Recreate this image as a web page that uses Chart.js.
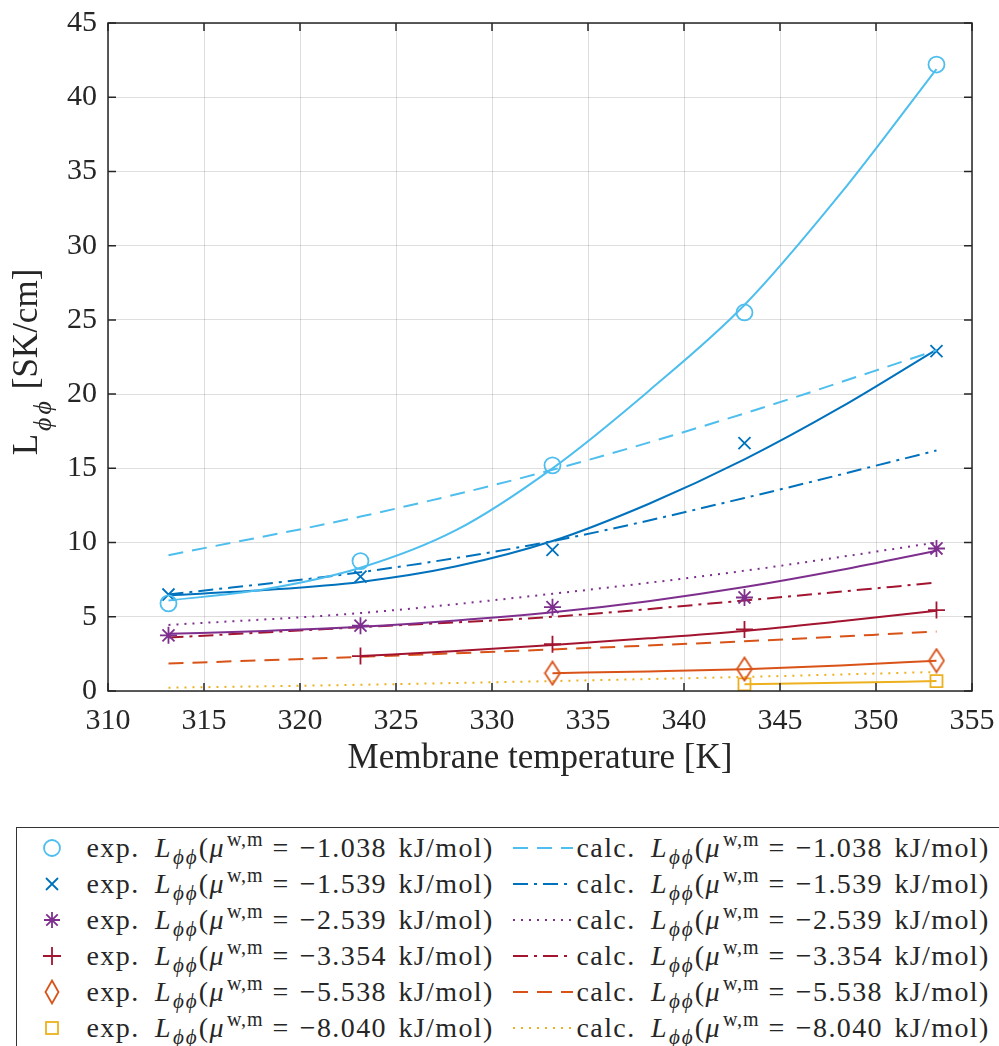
<!DOCTYPE html>
<html lang="en">
<head>
<meta charset="UTF-8">
<title>L_phiphi vs membrane temperature</title>
<script src="https://cdn.jsdelivr.net/npm/chart.js"></script>
<style>
    body { margin: 0; background: #fff; overflow: hidden; width: 999px; height: 1046px; position: relative;
           font-family: "Liberation Serif", serif; color: #262626; }
    #wrap { position: absolute; left: 0; top: 0; width: 999px; height: 800px; }
    #legend { position: absolute; left: 16px; top: 827px; width: 1000px; height: 240px;
              border: 1.5px solid #333; box-sizing: border-box; }
    .row { position: absolute; left: 0; width: 100%; height: 36px; }
    .row > * { position: absolute; top: 50%; transform: translateY(-50%); }
    .txt { font-size: 28px; white-space: nowrap; line-height: 36px; letter-spacing: 1.4px; }
    .txt sub, .txt sup { line-height: 0; position: relative; vertical-align: baseline; }
    .txt sub { font-size: 21px; top: 7px; font-style: italic; letter-spacing: 2px; margin-left: 1px; }
    .txt sup { font-size: 20px; top: -11px; letter-spacing: 1px; margin-left: 2px; }
    .txt .op { margin: 0 10px 0 9px; }
    .txt .un { margin-left: 3px; }
</style>
</head>
<body>
<div id="wrap"><canvas id="graph" width="999" height="800"></canvas></div>
<div id="legend"></div>
<script>
    // temperatures [K]
    const temps = [313.15, 323.15, 333.15, 343.15, 353.15];
    const fitTemps = [313.15, 318.15, 323.15, 328.15, 333.15, 338.15, 343.15, 348.15, 353.15];

    const muLabels = ['1.038', '1.539', '2.539', '3.354', '5.538', '8.040'];
    const colors = ['#4DBEEE', '#0072BD', '#7E2F8E', '#A2142F', '#D95319', '#EDB120'];

    // experimental points
    const expA = [5.9, 8.75, 15.2, 25.5, 42.2];
    const expB = [6.5, 7.7, 9.5, 16.7, 22.9];
    const expC = [3.75, 4.4, 5.65, 6.3, 9.6];
    const expD = [null, 2.35, 3.15, 4.15, 5.45];
    const expE = [null, null, 1.2, 1.48, 2.05];
    const expF = [null, null, null, 0.45, 0.67];

    // fitted curves through the experimental points (read at fitTemps)
    const fitA = [6.1, 6.85, 8.3, 10.85, 15.0, 20.2, 26.0, 33.5, 41.9];
    const fitB = [6.45, 6.8, 7.35, 8.4, 10.1, 12.6, 15.6, 19.1, 23.0];
    const fitC = [3.85, 4.05, 4.33, 4.75, 5.3, 6.05, 7.0, 8.15, 9.45];
    const fitD = [null, null, 2.35, 2.7, 3.1, 3.55, 4.05, 4.7, 5.4];
    const fitE = [null, null, null, null, 1.2, 1.32, 1.47, 1.72, 2.04];
    const fitF = [null, null, null, null, null, null, 0.45, 0.55, 0.67];

    // calculated values
    const calcA = [9.15, 11.75, 14.9, 18.7, 22.95];
    const calcB = [6.5, 8.0, 10.1, 13.0, 16.2];
    const calcC = [4.45, 5.25, 6.55, 8.1, 10.0];
    const calcD = [3.6, 4.3, 5.0, 6.1, 7.3];
    const calcE = [1.85, 2.3, 2.8, 3.35, 4.0];
    const calcF = [0.22, 0.42, 0.67, 0.95, 1.28];

    const xTitle = 'Membrane temperature [K]';
    const yTitleMain = 'L', yTitleSub = '\u03D5', yTitleUnit = ' [SK/cm]';

    const expAll = [expA, expB, expC, expD, expE, expF];
    const fitAll = [fitA, fitB, fitC, fitD, fitE, fitF];
    const calcAll = [calcA, calcB, calcC, calcD, calcE, calcF];

    function diamondImg(color) {
        const c = document.createElement('canvas');
        c.width = 18; c.height = 26;
        const g = c.getContext('2d');
        g.strokeStyle = color; g.lineWidth = 1.8;
        g.beginPath();
        g.moveTo(9, 1.5); g.lineTo(16.5, 13); g.lineTo(9, 24.5); g.lineTo(1.5, 13); g.closePath();
        g.stroke();
        return c;
    }

    const markers = [
        {style: 'circle', r: 8},
        {style: 'crossRot', r: 8.5},
        {style: 'star', r: 8.5},
        {style: 'cross', r: 8.5},
        {style: diamondImg(colors[4]), r: 10},
        {style: 'rect', r: 8.5},
    ];
    const dashes = [[15, 9], [15, 6, 3, 6], [2, 6], [15, 6, 3, 6], [15, 9], [2, 6]];

    const pairs = (xs, ys) => xs.map((x, i) => ({x: x, y: ys[i]}));

    const datasets = [];
    for (let i = 0; i < 6; i++) {
        datasets.push({
            label: 'exp -' + muLabels[i],
            data: pairs(temps, expAll[i]),
            showLine: false,
            pointStyle: markers[i].style,
            pointRadius: markers[i].r,
            pointBorderWidth: 1.8,
            borderColor: colors[i],
            backgroundColor: 'rgba(0,0,0,0)',
        });
        datasets.push({
            label: 'fit -' + muLabels[i],
            data: pairs(fitTemps, fitAll[i]),
            showLine: true,
            pointRadius: 0,
            borderWidth: 2,
            borderColor: colors[i],
            cubicInterpolationMode: 'monotone',
            fill: false,
        });
        datasets.push({
            label: 'calc -' + muLabels[i],
            data: pairs(temps, calcAll[i]),
            showLine: true,
            pointRadius: 0,
            borderWidth: 2,
            borderColor: colors[i],
            borderDash: dashes[i],
            cubicInterpolationMode: 'monotone',
            fill: false,
        });
    }

    // box with inward ticks on all four sides, plus axis titles
    const matlabBox = {
        id: 'matlabBox',
        afterDraw(chart) {
            const ctx = chart.ctx, a = chart.chartArea;
            const x = chart.scales.x, y = chart.scales.y;
            ctx.save();
            ctx.strokeStyle = '#262626';
            ctx.lineWidth = 1.5;
            ctx.strokeRect(a.left, a.top, a.right - a.left, a.bottom - a.top);
            ctx.beginPath();
            x.ticks.forEach(t => {
                const px = x.getPixelForValue(t.value);
                ctx.moveTo(px, a.bottom); ctx.lineTo(px, a.bottom - 8);
                ctx.moveTo(px, a.top); ctx.lineTo(px, a.top + 8);
            });
            y.ticks.forEach(t => {
                const py = y.getPixelForValue(t.value);
                ctx.moveTo(a.left, py); ctx.lineTo(a.left + 8, py);
                ctx.moveTo(a.right, py); ctx.lineTo(a.right - 8, py);
            });
            ctx.stroke();

            ctx.fillStyle = '#262626';
            ctx.font = '35px "Liberation Serif"';
            ctx.textAlign = 'center';
            ctx.textBaseline = 'alphabetic';
            ctx.fillText(xTitle, (a.left + a.right) / 2, 768);

            // rotated y title: L, subscript phi phi, unit
            ctx.translate(37, 362);
            ctx.rotate(-Math.PI / 2);
            const f1 = '35px "Liberation Serif"', f2 = 'italic 26px "Liberation Serif"';
            ctx.font = f1;
            const wL = ctx.measureText(yTitleMain).width, wU = ctx.measureText(yTitleUnit).width;
            ctx.font = f2;
            const wP = ctx.measureText(yTitleSub).width;
            const wS = 2 * wP + 9;
            const x0 = -(wL + wS + wU) / 2;
            ctx.textAlign = 'left';
            ctx.font = f1; ctx.fillText(yTitleMain, x0, 0);
            ctx.font = f2;
            ctx.fillText(yTitleSub, x0 + wL + 3, 14);
            ctx.fillText(yTitleSub, x0 + wL + wP + 6, 14);
            ctx.font = f1; ctx.fillText(yTitleUnit, x0 + wL + wS, 0);
            ctx.restore();
        }
    };

    const tickFont = {family: '"Liberation Serif"', size: 30};

    new Chart(document.getElementById('graph'), {
        type: 'line',
        data: {datasets: datasets},
        options: {
            responsive: false,
            animation: false,
            devicePixelRatio: 1,
            layout: {padding: {left: 0, top: 23, right: 27, bottom: 0}},
            plugins: {legend: {display: false}, tooltip: {enabled: false}},
            scales: {
                x: {
                    type: 'linear', min: 310, max: 355,
                    ticks: {stepSize: 5, font: tickFont, color: '#262626', padding: 12, maxRotation: 0},
                    grid: {color: 'rgba(0,0,0,0.13)', drawTicks: false},
                    border: {display: false},
                    afterFit(scale) { scale.height = 109; scale.paddingLeft = 0; scale.paddingRight = 0; },
                },
                y: {
                    type: 'linear', min: 0, max: 45,
                    ticks: {stepSize: 5, font: tickFont, color: '#262626', padding: 11},
                    grid: {color: 'rgba(0,0,0,0.13)', drawTicks: false},
                    border: {display: false},
                    afterFit(scale) { scale.width = 108; scale.paddingTop = 0; scale.paddingBottom = 0; },
                },
            },
        },
        plugins: [matlabBox],
    });

    // legend (two columns: exp. markers / calc. lines)
    function markerSvg(i) {
        const c = colors[i];
        const s = 'fill="none" stroke="' + c + '" stroke-width="1.8"';
        let body;
        if (i === 0) body = '<circle cx="14" cy="14" r="8" ' + s + '/>';
        else if (i === 1) body = '<path d="M8 8L20 20M20 8L8 20" ' + s + '/>';
        else if (i === 2) body = '<path d="M14 6V22M6 14H22M8.3 8.3L19.7 19.7M19.7 8.3L8.3 19.7" ' + s + '/>';
        else if (i === 3) body = '<path d="M14 5V23M5 14H23" ' + s + '/>';
        else if (i === 4) body = '<path d="M14 2.5L20.5 14L14 25.5L7.5 14Z" ' + s + '/>';
        else body = '<rect x="8" y="8" width="12" height="12" ' + s + '/>';
        return '<svg width="28" height="28" style="left:20.5px">' + body + '</svg>';
    }
    function lineSvg(i) {
        const dash = dashes[i].join(' ');
        return '<svg width="60" height="10" style="left:495.5px"><line x1="0" y1="5" x2="60" y2="5" stroke="' +
            colors[i] + '" stroke-width="2" stroke-dasharray="' + dash + '"/></svg>';
    }
    function formula(prefix, mu) {
        return prefix + '&ensp;<i>L</i><sub>\u03D5\u03D5</sub>(<i>\u03BC</i><sup>w,m</sup>' +
            '<span class="op">=</span>\u2212' + mu + ' <span class="un">kJ/mol)</span>';
    }

    let html = '';
    for (let i = 0; i < 6; i++) {
        html += '<div class="row" style="top:' + (1.5 + i * 36) + 'px">' +
            markerSvg(i) +
            '<span class="txt" style="left:69.5px">' + formula('exp.', muLabels[i]) + '</span>' +
            lineSvg(i) +
            '<span class="txt" style="left:559.5px">' + formula('calc.', muLabels[i]) + '</span>' +
            '</div>';
    }
    document.getElementById('legend').innerHTML = html;
</script>
</body>
</html>
